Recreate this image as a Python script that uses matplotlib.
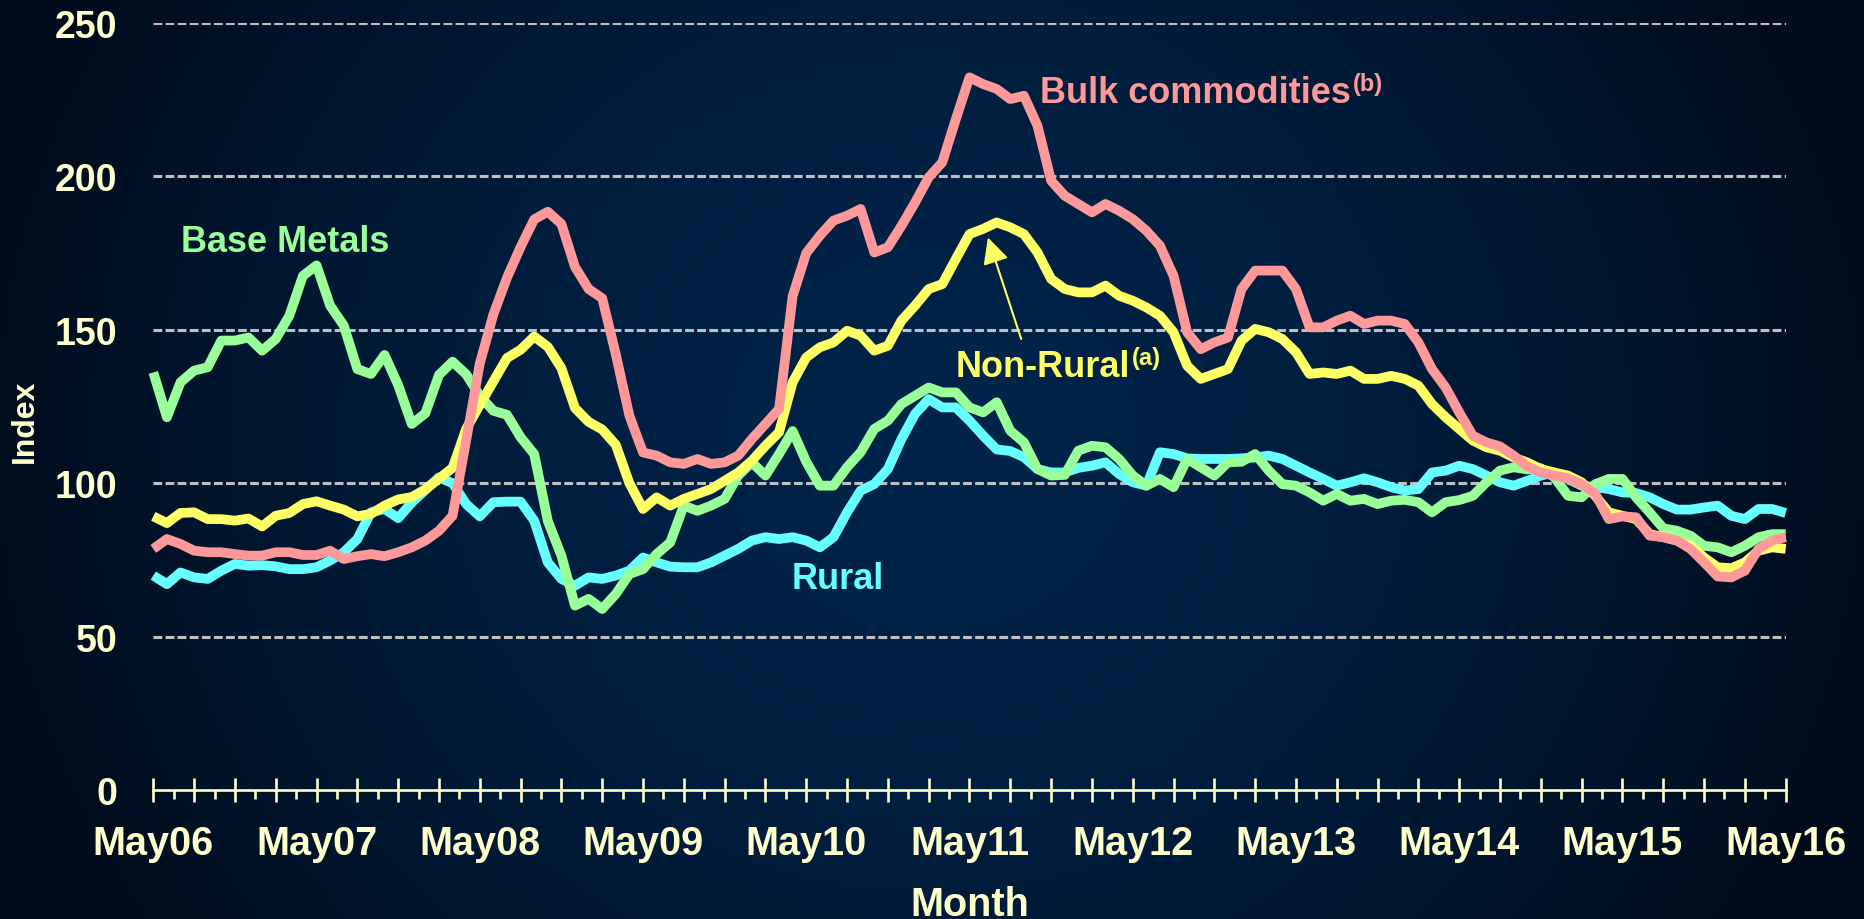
import numpy as np
import matplotlib
matplotlib.use("Agg")
import matplotlib.pyplot as plt
from matplotlib.ticker import FixedLocator, FuncFormatter

# monthly index values, May 2006 .. May 2016
months = np.arange(121)
year_labels = ["May06", "May07", "May08", "May09", "May10", "May11",
               "May12", "May13", "May14", "May15", "May16"]
y_ticks = [0, 50, 100, 150, 200, 250]

bulk = [78.6, 81.8, 80.2, 78.0, 77.5, 77.5, 76.9, 76.4, 76.4, 77.5, 77.5, 76.6,
        76.6, 78.0, 75.3, 76.2, 76.9, 76.2, 77.5, 79.1, 81.3, 84.5, 89.4, 114.0,
        139.0, 155.0, 167.0, 177.0, 186.0, 188.5, 184.5, 170.5, 163.3, 160.3, 142.0, 122.0,
        110.0, 109.0, 106.8, 106.3, 107.9, 106.3, 106.8, 109.0, 114.4, 119.3, 124.2, 161.0,
        175.0, 180.7, 185.6, 187.2, 189.4, 175.2, 176.9, 183.9, 191.5, 199.7, 204.6, 218.7,
        232.3, 230.1, 228.5, 225.2, 226.3, 216.5, 198.6, 193.7, 191.0, 188.3, 191.0, 188.8,
        186.1, 182.3, 177.4, 167.6, 149.2, 143.7, 145.9, 147.5, 163.3, 169.3, 169.3, 169.3,
        163.3, 150.8, 150.8, 153.0, 154.6, 151.9, 153.0, 153.0, 151.9, 145.9, 137.2, 131.2,
        123.1, 115.5, 113.3, 112.0, 109.0, 105.5, 103.5, 102.5, 101.6, 99.7, 96.5, 88.3,
        89.2, 88.9, 82.9, 82.4, 81.3, 78.6, 74.2, 69.6, 69.3, 71.5, 78.6, 81.3, 82.4]

non_rural = [89.2, 87.0, 90.3, 90.5, 88.3, 88.3, 87.8, 88.5, 85.9, 89.4, 90.3, 93.2,
             94.1, 92.7, 91.4, 89.2, 90.0, 92.7, 94.7, 95.5, 98.0, 101.5, 105.0, 117.7,
             125.5, 133.2, 140.8, 143.5, 147.8, 144.5, 137.5, 124.5, 120.0, 117.5, 112.5, 100.0,
             91.6, 95.4, 92.7, 94.9, 96.5, 98.1, 100.8, 103.5, 107.3, 112.2, 116.6, 132.9,
             141.0, 144.3, 145.9, 149.7, 148.1, 143.2, 144.8, 153.0, 157.9, 163.3, 164.9, 173.1,
             181.2, 182.9, 185.0, 183.4, 181.2, 175.2, 166.6, 163.3, 162.2, 162.2, 164.4, 161.1,
             159.5, 157.3, 154.6, 149.2, 138.3, 134.0, 135.6, 137.2, 146.5, 150.3, 149.2, 147.0,
             142.7, 135.6, 136.1, 135.6, 136.7, 134.0, 134.0, 135.0, 134.0, 131.8, 125.8, 121.5,
             117.7, 113.9, 111.7, 110.6, 108.4, 106.8, 104.6, 103.5, 102.5, 100.3, 95.9, 90.5,
             89.4, 88.3, 83.4, 82.4, 81.3, 79.6, 75.8, 72.6, 72.3, 74.2, 78.0, 79.1, 78.6]

base_metals = [136.1, 121.5, 132.9, 136.7, 137.8, 146.5, 146.5, 147.5, 143.2, 147.0, 154.6, 167.6,
               171.0, 157.9, 151.4, 137.2, 135.6, 141.8, 132.0, 119.3, 122.8, 135.3, 139.6, 135.5,
               128.5, 123.6, 122.3, 115.0, 109.5, 87.7, 76.4, 60.1, 62.3, 59.0, 63.9, 70.4,
               72.0, 76.9, 80.7, 92.7, 91.0, 92.7, 94.9, 102.5, 106.8, 102.5, 109.5, 117.0,
               107.0, 99.2, 99.2, 105.2, 110.1, 117.7, 120.4, 125.8, 128.5, 131.2, 129.6, 129.6,
               124.7, 123.1, 126.4, 117.1, 113.3, 104.6, 102.5, 102.7, 110.6, 112.2, 111.7, 107.9,
               102.5, 99.2, 101.4, 98.7, 107.9, 105.2, 102.5, 106.8, 107.0, 109.5, 104.1, 99.7,
               99.2, 97.0, 94.3, 96.5, 94.3, 94.9, 93.2, 94.3, 94.6, 93.8, 90.5, 93.8,
               94.5, 95.9, 100.3, 104.1, 105.2, 104.5, 104.9, 101.9, 95.9, 95.4, 99.7, 101.4,
               101.4, 95.4, 90.5, 85.3, 84.5, 82.9, 79.6, 79.1, 77.5, 79.6, 82.4, 83.4, 83.4]

rural = [69.9, 67.1, 70.9, 69.3, 68.8, 71.5, 73.7, 73.1, 73.3, 72.9, 72.0, 72.0,
         72.6, 74.8, 77.5, 81.8, 90.5, 91.6, 88.6, 93.7, 97.8, 101.9, 100.0, 93.2,
         89.2, 93.8, 94.0, 94.0, 87.8, 74.2, 68.8, 66.6, 69.3, 68.8, 69.9, 71.5,
         75.8, 74.2, 72.8, 72.6, 72.6, 74.2, 76.4, 78.6, 81.3, 82.4, 81.8, 82.4,
         81.3, 79.1, 82.4, 90.5, 97.6, 99.7, 104.6, 114.4, 122.6, 127.4, 124.7, 124.7,
         120.4, 115.5, 111.0, 110.5, 108.5, 104.6, 103.5, 103.5, 105.0, 105.7, 106.8, 103.0,
         100.3, 99.2, 110.1, 109.5, 108.1, 107.9, 107.9, 107.9, 108.1, 108.4, 109.0, 107.9,
         105.7, 103.5, 101.4, 99.2, 100.3, 101.6, 100.3, 98.7, 97.6, 98.1, 103.5, 104.1,
         105.7, 104.6, 102.5, 100.3, 99.2, 100.8, 102.5, 103.5, 101.4, 99.2, 98.7, 98.1,
         97.0, 96.8, 95.4, 93.2, 91.4, 91.4, 92.1, 92.7, 89.4, 88.3, 91.6, 91.6, 90.3]

CREAM = "#FFFFCC"
PINK = "#FF9999"
YELLOW = "#FFFF66"
GREEN = "#99FF99"
CYAN = "#66FFFF"

plt.rcParams["font.family"] = ["Liberation Sans", "DejaVu Sans"]
plt.rcParams["font.weight"] = "bold"
plt.rcParams["lines.scale_dashes"] = False

fig = plt.figure(figsize=(18.64, 9.2), dpi=100)

# dark navy radial background
bg = fig.add_axes([0, 0, 1, 1], zorder=0)
yy, xx = np.mgrid[0:920, 0:1864]
r = np.sqrt(((xx - 930) / 960.0) ** 2 + ((yy - 440) / 900.0) ** 2)
t = np.clip(r, 0, 1) ** 1.6
inner = np.array([1, 36, 74]) / 255.0
outer = np.array([0, 12, 28]) / 255.0
img = inner * (1 - t[..., None]) + outer * t[..., None]
bg.imshow(img, aspect="auto", extent=[0, 1, 0, 1], origin="upper")
bg.axis("off")

ax = fig.add_axes([0.08224, 0.1402, 0.87575, 0.8337], zorder=1)
ax.patch.set_alpha(0)

for v in y_ticks[1:]:
    ax.axhline(v, color="#C0C0C0", lw=2.2, linestyle=(0, (6.3, 2.4)), zorder=1)

line_kw = dict(lw=7, solid_joinstyle="round", solid_capstyle="butt", clip_on=False)
ax.plot(months, rural, color=CYAN, zorder=2, **line_kw)
ax.plot(months, base_metals, color=GREEN, zorder=3, **line_kw)
ax.plot(months, non_rural, color=YELLOW, zorder=4, **line_kw)
ax.plot(months, bulk, color=PINK, zorder=5, **line_kw)

ax.set_xlim(0, 120)
ax.set_ylim(0, 250)
for side in ["left", "right", "top"]:
    ax.spines[side].set_visible(False)
ax.spines["bottom"].set_color(CREAM)
ax.spines["bottom"].set_linewidth(1.9)


def month_label(x, pos):
    m = int(round(x))
    return year_labels[m // 12] if m % 12 == 0 else ""


ax.xaxis.set_major_locator(FixedLocator(np.arange(0, 121, 3)))
ax.xaxis.set_minor_locator(FixedLocator(np.arange(1.5, 120, 3)))
ax.xaxis.set_major_formatter(FuncFormatter(month_label))
ax.tick_params(axis="x", which="major", direction="inout", length=17, width=1.9,
               color=CREAM, labelcolor=CREAM, labelsize=28.5, pad=16)
ax.tick_params(axis="x", which="minor", direction="out", length=6.7, width=1.9, color=CREAM)
ax.set_yticks(y_ticks)
ax.tick_params(axis="y", length=0, pad=26, labelcolor=CREAM, labelsize=27)

ax.set_xlabel("Month", fontsize=28.5, color=CREAM, fontweight="bold", va="top")
ax.xaxis.set_label_coords(0.5, -0.1235)
ax.set_ylabel("Index", fontsize=23, color=CREAM, fontweight="bold",
              family=["Liberation Sans Narrow", "Liberation Sans"], va="center")
ax.yaxis.set_label_coords(-0.0785, 0.482)


def series_label(x, y, text, color, note=None):
    t = ax.text(x, y, text, color=color, fontsize=26, fontweight="bold",
                ha="left", va="baseline", zorder=6)
    if note:
        ax.annotate(note, xy=(1, 1), xycoords=t, xytext=(1.5, 2), textcoords="offset points",
                    ha="left", va="top", fontsize=17, fontweight="bold", color=color, zorder=6)
    return t


series_label(2.0, 175.7, "Base Metals", GREEN)
series_label(65.2, 224.2, "Bulk commodities", PINK, "(b)")
series_label(59.0, 135.0, "Non-Rural", YELLOW, "(a)")
series_label(46.9, 65.8, "Rural", CYAN)

ax.annotate("", xy=(61.35, 180.1), xytext=(63.8, 147.0),
            arrowprops=dict(arrowstyle="-|>,head_length=0.4,head_width=0.2", mutation_scale=40,
                            color=YELLOW, lw=1.5, shrinkA=0, shrinkB=0), zorder=6)

fig.savefig("out.png", dpi=100)
